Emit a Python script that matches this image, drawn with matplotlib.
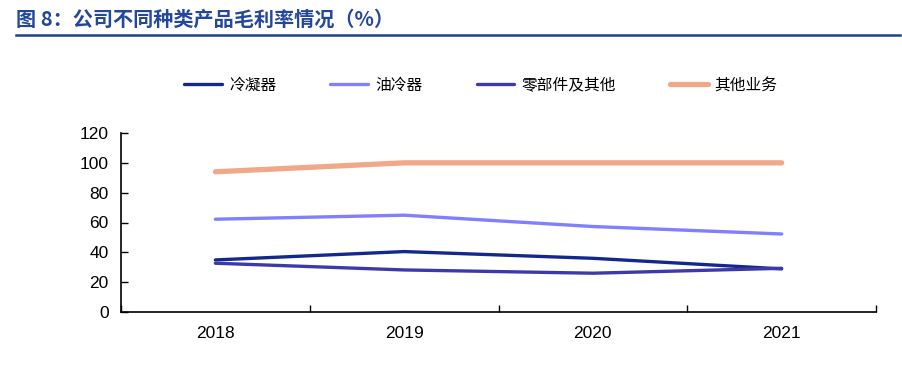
import matplotlib
matplotlib.use("Agg")
import matplotlib.pyplot as plt
from matplotlib.lines import Line2D
import numpy as np

plt.rcParams['font.family'] = ['Noto Sans CJK SC', 'DejaVu Sans']

title = "图 8：公司不同种类产品毛利率情况（%）"
years = ["2018", "2019", "2020", "2021"]
series_names = ["冷凝器", "油冷器", "零部件及其他", "其他业务"]
condenser = [34.9, 40.5, 36.0, 28.9]
oil_cooler = [62.2, 64.9, 57.3, 52.3]
parts_other = [32.7, 28.2, 26.0, 29.3]
other_business = [94.0, 100.0, 100.0, 100.0]
yticks = [0, 20, 40, 60, 80, 100, 120]

colors = ["#13288c", "#7f7fff", "#3c3aaa", "#f0a888"]
widths = [2.4, 2.4, 2.4, 3.8]

W, H = 902, 370
fig = plt.figure(figsize=(W / 100, H / 100), dpi=100)

ax = fig.add_axes([121 / W, 1 - 312 / H, (876 - 121) / W, (312 - 133) / H])
x = np.arange(len(years))
data = [condenser, oil_cooler, parts_other, other_business]
handles = []
for vals, c, lw, name in zip(data, colors, widths, series_names):
    (ln,) = ax.plot(x, vals, color=c, lw=lw, solid_capstyle='round', label=name)
    handles.append(ln)

ax.set_xlim(-0.5, len(years) - 0.5)
ax.set_ylim(0, 120)
ax.set_yticks(yticks)
ax.set_yticklabels([str(v) for v in yticks], family='Liberation Sans', fontsize=12.5)
ax.set_xticks(x)
ax.set_xticklabels(years, family='Liberation Sans', fontsize=12.5)
ax.set_xticks(np.arange(-0.5, len(years)), minor=True)
ax.tick_params(axis='x', which='major', length=0, pad=10)
ax.tick_params(axis='x', which='minor', direction='in', length=5, width=1)
ax.tick_params(axis='y', direction='in', length=5, width=1, pad=9)
for s in ['top', 'right']:
    ax.spines[s].set_visible(False)
for s in ['left', 'bottom']:
    ax.spines[s].set_linewidth(1.2)
    ax.spines[s].set_color('black')

leg = fig.legend(handles=handles, loc='center', bbox_to_anchor=(481 / W, 1 - 85 / H),
                 ncol=4, frameon=False, fontsize=11.3, handlelength=2.4,
                 handletextpad=0.45, columnspacing=3.45)

fig.text(16 / W, 1 - 19 / H, title, fontsize=14.5, fontweight='bold',
         color='#23479a', va='center', ha='left')
fig.add_artist(Line2D([16 / W, 900 / W], [1 - 35 / H, 1 - 35 / H],
                      color='#1f3f8f', lw=1.8, transform=fig.transFigure))

fig.savefig("out.png", dpi=100)
